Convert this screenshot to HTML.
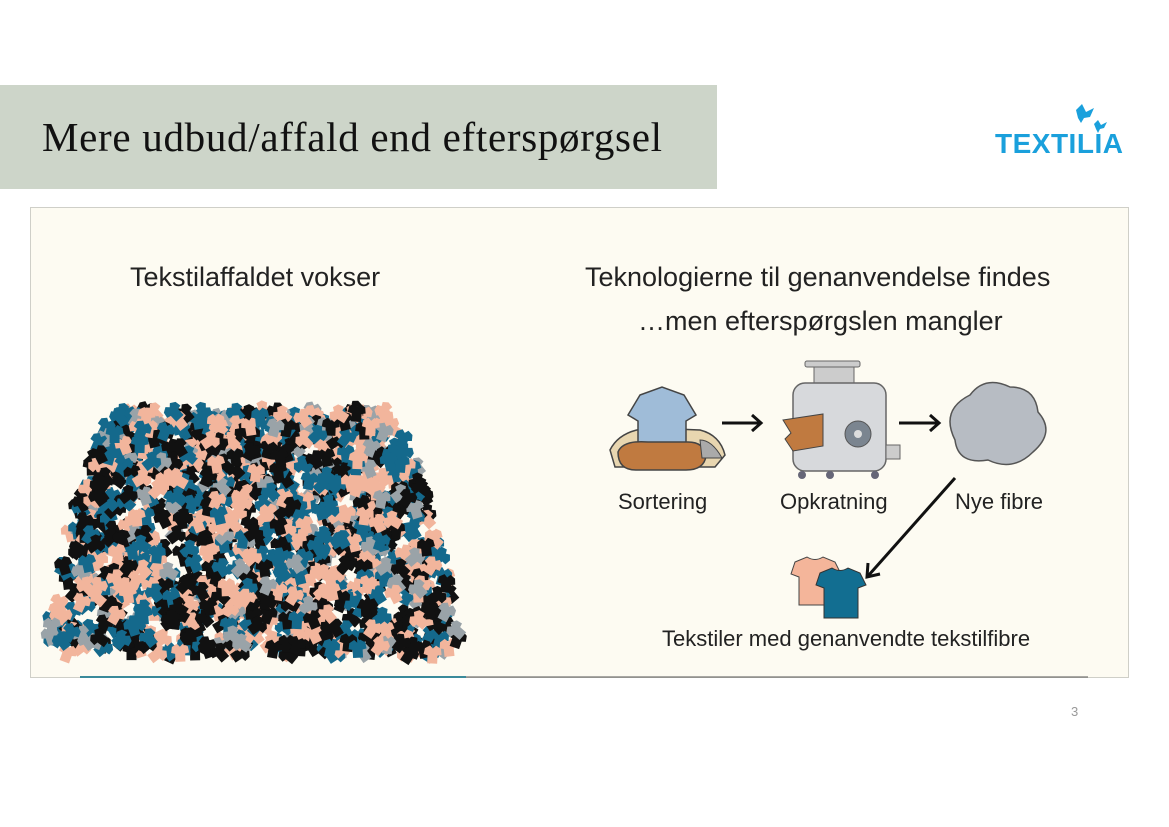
<!DOCTYPE html>
<html><head><meta charset="utf-8"><style>
body{margin:0;width:1169px;height:827px;background:#fff;position:relative;overflow:hidden;font-family:"Liberation Sans",sans-serif}
.band{position:absolute;left:0;top:85px;width:717px;height:104px;background:#cdd5c9}
.title{position:absolute;left:42px;top:113px;font-family:"Liberation Serif",serif;font-size:41px;color:#111;letter-spacing:0.7px}
.box{position:absolute;left:30px;top:207px;width:1097px;height:469px;background:#fdfbf2;border:1px solid #cfcfc8}
.t{position:absolute;color:#222;font-weight:300;white-space:nowrap}
</style></head><body>
<div class="band"></div>
<div class="title">Mere udbud/affald end efterspørgsel</div>
<svg style="position:absolute;left:990px;top:100px" width="150" height="60">
<path d="M86 10 l6-6 l4 8 l8-4 l-4 9 l-6 1 l-3 5 l-3-5z" fill="#1aa0dc"/>
<path d="M104 24 l4-4 l3 5 l6-3 l-3 6 l-4 1 l-2 4 l-2-4z" fill="#1aa0dc"/>
<text x="5" y="53" font-family="Liberation Sans" font-weight="bold" font-size="28" fill="#1aa0dc" letter-spacing="0.5">TEXTILIA</text>
</svg>
<div class="box"></div>
<div class="t" style="left:130px;top:262px;font-size:27px">Tekstilaffaldet vokser</div>
<div class="t" style="left:585px;top:262px;font-size:27px">Teknologierne til genanvendelse findes</div>
<div class="t" style="left:638px;top:306px;font-size:27px">…men efterspørgslen mangler</div>
<svg style="position:absolute;left:0;top:0" width="1169" height="827" id="s">
<line x1="80" y1="677" x2="466" y2="677" stroke="#3a8a9a" stroke-width="2"/>
<line x1="466" y1="677" x2="1088" y2="677" stroke="#555" stroke-width="1"/>
<g id="pile"></g>
<path d="M610 450 q10-20 40-22 l50 2 q20 5 25 25 l-10 12 h-100z" fill="#e8d6b0" stroke="#444" stroke-width="1.5"/>
<path d="M640 395 l22-8 l22 8 l12 20 l-10 6 v30 h-48 v-30 l-10-6z" fill="#9fbcd8" stroke="#444" stroke-width="1.5"/>
<path d="M618 452 q5-12 30-10 h40 q16 0 18 14 q-2 14-20 14 h-50 q-18 0-18-18z" fill="#c07a40" stroke="#444" stroke-width="1.5"/>
<path d="M700 440 q12 0 22 18 h-20z" fill="#aaa" stroke="#444"/>
<rect x="805" y="361" width="55" height="6" rx="2" fill="#ccc" stroke="#666"/>
<rect x="814" y="367" width="40" height="16" fill="#ccc" stroke="#666"/>
<rect x="793" y="383" width="93" height="88" rx="12" fill="#d7d9dc" stroke="#666" stroke-width="1.5"/>
<rect x="886" y="445" width="14" height="14" fill="#ccc" stroke="#666"/>
<circle cx="802" cy="475" r="4" fill="#667"/><circle cx="830" cy="475" r="4" fill="#667"/><circle cx="875" cy="475" r="4" fill="#667"/>
<circle cx="858" cy="434" r="13" fill="#7b8590" stroke="#555"/><circle cx="858" cy="434" r="4" fill="#ddd"/>
<path d="M783 420 l40-6 v32 l-30 5 l-8-12 l6-6z" fill="#c07a40" stroke="#444"/>
<path d="M955 440 q-15-30 15-45 q15-20 40-8 q25 0 28 25 q18 20-5 40 q-20 20-45 8 q-30 5-33-20z" fill="#b7bcc3" stroke="#555" stroke-width="1.5"/>
<g stroke="#111" stroke-width="3" fill="none">
<line x1="722" y1="423" x2="760" y2="423"/><path d="M752 415 l9 8 l-9 8"/>
<line x1="899" y1="423" x2="938" y2="423"/><path d="M930 415 l9 8 l-9 8"/>
<line x1="955" y1="478" x2="868" y2="576"/><path d="M868 563 l-1 14 l13-3"/>
</g>
<path d="M795 562 l12-5 q8 5 16 0 l12 5 l6 12 l-8 3 v28 h-34 v-28 l-8-3z" fill="#f4b59a" stroke="#444"/>
<path d="M820 573 l12-5 q8 5 16 0 l12 5 l6 12 l-8 3 v30 h-34 v-30 l-8-3z" fill="#126e91" stroke="#333"/>
</svg>
<div class="t" style="left:618px;top:489px;font-size:22px">Sortering</div>
<div class="t" style="left:780px;top:489px;font-size:22px">Opkratning</div>
<div class="t" style="left:955px;top:489px;font-size:22px">Nye fibre</div>
<div class="t" style="left:662px;top:626px;font-size:22px">Tekstiler med genanvendte tekstilfibre</div>
<div class="t" style="left:1071px;top:704px;font-size:13px;color:#999">3</div>
<script>
var g=document.getElementById('pile'),s=12345;function r(){s=(s*16807)%2147483647;return s/2147483647;}
var cols=['#14698c','#14698c','#14698c','#111','#111','#111','#f2b59c','#f2b59c','#f2b59c','#9aa3a8'],h='';
for(var i=0;i<1300;i++){var y=410+r()*245,t=(y-405)/255;var half=125+85*Math.pow(t,0.55);
var x=253+(r()*2-1)*half;var c=cols[Math.floor(r()*cols.length)],a=(r()*2-1)*60;
h+='<path d="M-8-6 l5-3 l3 3 l3-3 l5 3 l1 6 l-4 1 v8 h-10 v-8 l-4-1z" transform="translate('+x.toFixed(1)+','+y.toFixed(1)+') rotate('+a.toFixed(0)+')" fill="'+c+'"/>';}
g.innerHTML=h;
</script>
</body></html>
